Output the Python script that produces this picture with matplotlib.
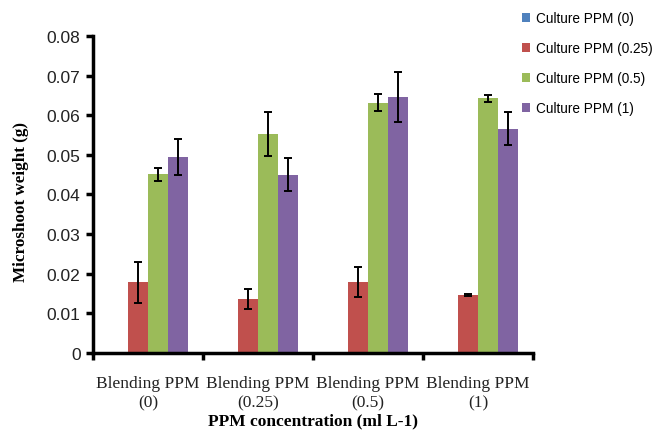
import matplotlib
matplotlib.use("Agg")
import matplotlib.pyplot as plt
import numpy as np

groups = ["Blending PPM\n(0)", "Blending PPM\n(0.25)", "Blending PPM\n(0.5)", "Blending PPM\n(1)"]
series = ["Culture PPM (0)", "Culture PPM (0.25)", "Culture PPM (0.5)", "Culture PPM (1)"]
colors = ["#4f81bd", "#c0504d", "#9bbb59", "#8064a2"]

vals_0 = [0.0, 0.0, 0.0, 0.0]
vals_025 = [0.0178, 0.0135, 0.0180, 0.0146]
vals_05 = [0.0451, 0.0553, 0.0632, 0.0643]
vals_1 = [0.0494, 0.0450, 0.0647, 0.0566]

err_0 = [0.0, 0.0, 0.0, 0.0]
err_025 = [0.0052, 0.0025, 0.0038, 0.0003]
err_05 = [0.0016, 0.0055, 0.0022, 0.0009]
err_1 = [0.0046, 0.0042, 0.0063, 0.0042]

values = [vals_0, vals_025, vals_05, vals_1]
errors = [err_0, err_025, err_05, err_1]

fig = plt.figure(figsize=(6.55, 4.31), dpi=100)
ax = fig.add_axes([0.142, 0.179, 0.672, 0.735])

x = np.arange(len(groups))
w = 0.18
for i, (name, v, e, c) in enumerate(zip(series, values, errors, colors)):
    pos = x + (i - 1.5) * w
    ax.bar(pos, v, width=w, color=c, label=name, zorder=2)
    if any(e):
        ax.errorbar(pos, v, yerr=e, fmt="none", ecolor="black", elinewidth=1.4,
                    capsize=3, capthick=1.4, zorder=3)

ax.set_xlim(-0.5, 3.5)
ax.set_ylim(0, 0.08)
ax.set_yticks(np.arange(0, 0.081, 0.01))
ax.set_yticklabels(["0"] + ["%.2f" % t for t in np.arange(0.01, 0.081, 0.01)],
                   fontfamily="Liberation Sans", fontsize=12.5, color="#222222")

ax.set_xticks(x)
ax.set_xticklabels(groups, fontfamily="Liberation Serif", fontsize=12.5,
                   color="#222222", linespacing=1.3)
ax.set_xticks(np.arange(-0.5, 3.6, 1), minor=True)
ax.tick_params(axis="x", which="major", length=0, pad=16)
ax.tick_params(axis="x", which="minor", length=5, width=2.5, direction="out")
ax.tick_params(axis="y", length=5, width=2.5, direction="out", pad=4)

for s in ["top", "right"]:
    ax.spines[s].set_visible(False)
for s in ["left", "bottom"]:
    ax.spines[s].set_linewidth(2.5)

ax.set_ylabel("Microshoot weight (g)", fontfamily="Liberation Serif",
              fontweight="bold", fontsize=12.3)
ax.yaxis.set_label_coords(-0.145, 0.48)
ax.set_xlabel("PPM concentration (ml L-1)", fontfamily="Liberation Serif",
              fontweight="bold", fontsize=12.5, labelpad=1)

fig.legend(loc="upper left", bbox_to_anchor=(0.797, 0.972), frameon=False,
           prop={"family": "Liberation Sans", "size": 9.8},
           borderpad=0, borderaxespad=0,
           handlelength=0.6, handleheight=0.6, handletextpad=0.4, labelspacing=1.18)

fig.savefig("out.png", dpi=100)
